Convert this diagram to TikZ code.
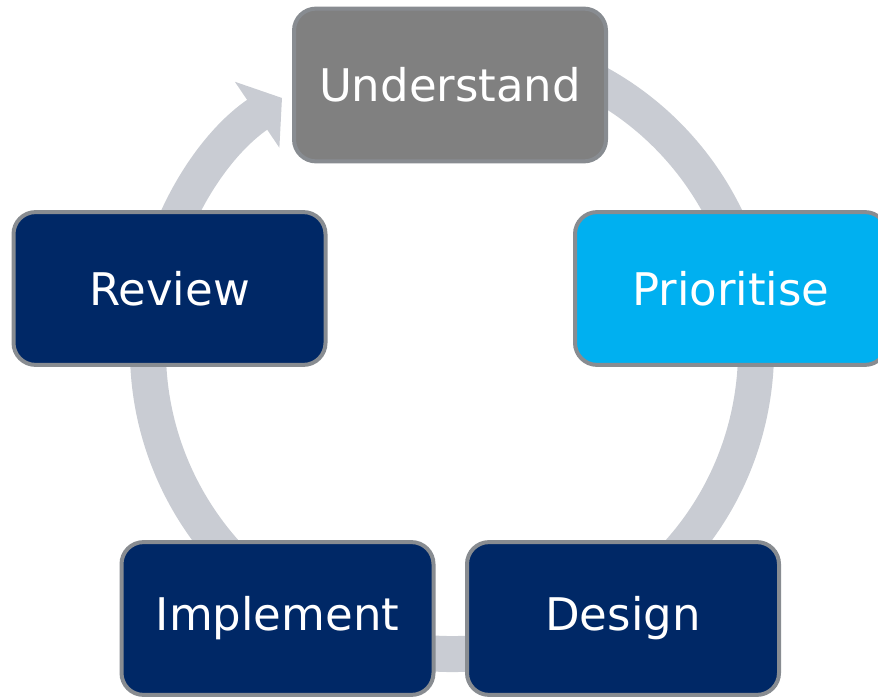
\documentclass[tikz,border=0pt]{standalone}
\usepackage{fontspec}
\setmainfont{DejaVu Sans}
\usetikzlibrary{arrows.meta, positioning}

\definecolor{ringgray}{RGB}{201,204,211}
\definecolor{edgegray}{RGB}{136,140,145}
\definecolor{boxgray}{RGB}{128,128,128}
\definecolor{navy}{RGB}{0,40,102}
\definecolor{sky}{RGB}{0,176,240}

\begin{document}
\begin{tikzpicture}
		\tikzstyle{Step} = [rectangle, rounded corners=0.55cm, minimum width=7.8cm, minimum height=3.82cm, text centered, draw=edgegray, line width=0.1cm, text=white, font=\fontsize{32}{38}\selectfont]
		\tikzstyle{ring} = [line width=0.9cm, ringgray, -{Triangle[width=1.95cm, length=0.75cm]}]
		
		\clip (0,0) rectangle (21.95,-17.475);
		\useasboundingbox (0,0) rectangle (21.95,-17.475);
		
		% the cycle behind the boxes
		\coordinate (ctr) at (11.3,-8.75);
		\draw [ring] ([shift={(80:7.6)}]ctr) arc[start angle=80, end angle=-236, radius=7.6];
		
		\node (und) [Step, fill=boxgray] at (11.25,-2.125) {Understand};
		\node (pri) [Step, fill=sky] at (18.275,-7.2125) {Prioritise};
		\node (des) [Step, fill=navy] at (15.575,-15.4625) {Design};
		\node (imp) [Step, fill=navy] at (6.9375,-15.4625) {Implement};
		\node (rev) [Step, fill=navy] at (4.2375,-7.2125) {Review};
\end{tikzpicture}
\end{document}
